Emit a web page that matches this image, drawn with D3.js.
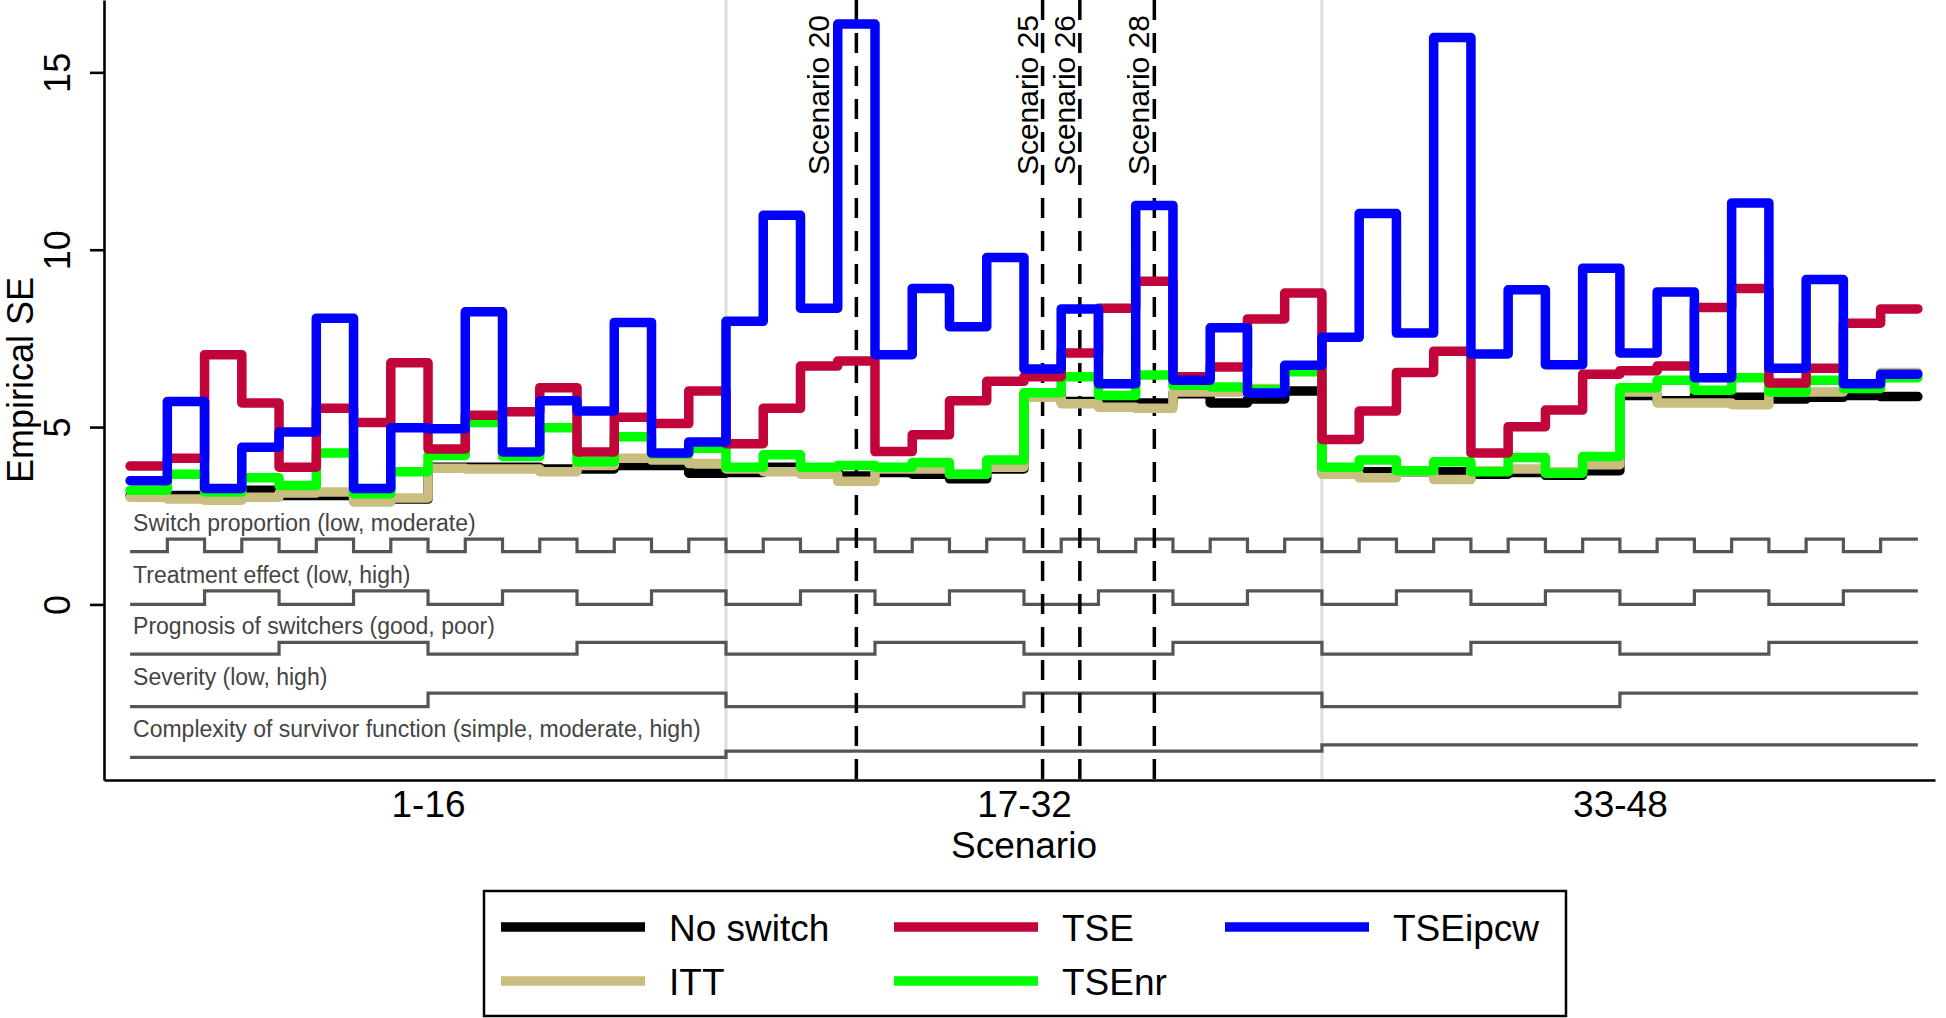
<!DOCTYPE html>
<html>
<head>
<meta charset="utf-8">
<script src="https://cdn.jsdelivr.net/npm/d3@7"></script>
<style>
  body { margin: 0; background: #fff; }
  text { font-family: "Liberation Sans", Arial, Helvetica, sans-serif; }
</style>
</head>
<body>
<svg id="chart" width="1946" height="1018"></svg>
<script>
// empirical SE per scenario (1..48)
var noSwitch = [3.07,3.07,3.14,3.22,3.07,3.07,2.92,2.97,3.87,3.87,3.87,3.82,3.82,3.92,3.92,3.70,
                3.72,3.87,3.82,3.62,3.72,3.67,3.54,3.82,5.89,5.72,5.72,5.68,5.94,5.68,5.79,6.02,
                3.72,3.74,3.74,3.74,3.67,3.72,3.64,3.77,5.89,5.74,5.89,5.84,5.79,5.84,5.89,5.86];
var itt      = [3.02,2.97,2.94,3.02,3.14,3.17,2.89,3.00,3.84,3.82,3.82,3.74,3.92,4.12,4.07,3.97,
                3.82,3.74,3.67,3.47,3.82,3.82,3.67,3.87,5.84,5.66,5.56,5.53,5.99,5.99,6.09,6.72,
                3.67,3.57,3.74,3.52,3.77,3.82,3.74,3.94,5.99,5.68,5.68,5.63,5.99,5.99,6.14,6.54];
var tse      = [3.90,4.12,7.04,5.68,3.87,5.53,5.13,6.81,4.38,5.33,5.43,6.11,4.30,5.28,5.10,6.02,
                4.53,5.53,6.72,6.86,4.31,4.78,5.74,6.29,6.42,7.09,8.35,9.11,6.42,6.69,8.05,8.78,
                4.65,5.45,6.54,7.14,4.27,5.01,5.48,6.49,6.59,6.72,8.37,8.91,6.24,6.66,7.93,8.33];
var tsenr    = [3.22,3.67,3.17,3.57,3.35,4.27,3.12,3.74,4.20,5.13,4.17,4.98,4.02,4.73,4.24,4.40,
                3.87,4.22,3.87,3.92,3.87,4.00,3.67,4.07,5.97,6.42,5.89,6.47,6.18,6.13,6.05,6.56,
                3.87,4.07,3.77,4.02,3.74,4.14,3.70,4.17,6.11,6.32,6.04,6.39,5.99,6.32,6.09,6.39];
var tseipcw  = [3.49,5.72,3.27,4.43,4.86,8.07,3.27,4.98,4.95,8.25,4.30,5.74,5.45,7.95,4.27,4.58,
                7.98,10.97,8.35,16.36,7.04,8.91,7.83,9.78,6.64,8.33,6.22,11.25,6.32,7.80,5.96,6.74,
                7.53,11.02,7.65,15.98,7.06,8.87,6.76,9.48,7.09,8.81,6.39,11.32,6.66,9.16,6.22,6.49];

var seriesNames = ["No switch", "TSE", "TSEipcw", "ITT", "TSEnr"];

// design factors (level of each factor per scenario)
var switchProp  = [0,1,0,1,0,1,0,1,0,1,0,1,0,1,0,1, 0,1,0,1,0,1,0,1,0,1,0,1,0,1,0,1, 0,1,0,1,0,1,0,1,0,1,0,1,0,1,0,1];
var treatEffect = [0,0,1,1,0,0,1,1,0,0,1,1,0,0,1,1, 0,0,1,1,0,0,1,1,0,0,1,1,0,0,1,1, 0,0,1,1,0,0,1,1,0,0,1,1,0,0,1,1];
var prognosis   = [0,0,0,0,1,1,1,1,0,0,0,0,1,1,1,1, 0,0,0,0,1,1,1,1,0,0,0,0,1,1,1,1, 0,0,0,0,1,1,1,1,0,0,0,0,1,1,1,1];
var severity    = [0,0,0,0,0,0,0,0,1,1,1,1,1,1,1,1, 0,0,0,0,0,0,0,0,1,1,1,1,1,1,1,1, 0,0,0,0,0,0,0,0,1,1,1,1,1,1,1,1];
var complexity  = [0,0,0,0,0,0,0,0,0,0,0,0,0,0,0,0, 1,1,1,1,1,1,1,1,1,1,1,1,1,1,1,1, 2,2,2,2,2,2,2,2,2,2,2,2,2,2,2,2];
var factorLabels = ["Switch proportion (low, moderate)", "Treatment effect (low, high)",
                    "Prognosis of switchers (good, poor)", "Severity (low, high)",
                    "Complexity of survivor function (simple, moderate, high)"];

var groupLabels = ["1-16", "17-32", "33-48"];
var groupCenters = [8.5, 24.5, 40.5];
var yTicks = [0, 5, 10, 15];
var marked = [20, 25, 26, 28];

var svg = d3.select("#chart");
svg.append("rect").attr("width", 1946).attr("height", 1018).attr("fill", "#fff");

var x = d3.scaleLinear().domain([-0.2, 48.96]).range([104, 1935]);
var y = d3.scaleLinear().domain([-4.95, 17.04]).range([780, 0]);

// turn a per-scenario array into stair-step points
function steps(vals, f){
	var pts = vals.map(function(v, i){ return [i + 0.5, f(v)]; });
	pts.push([vals.length + 0.5, f(vals[vals.length - 1])]);
	return pts;
}
var stepLine = d3.line().x(function(d){ return x(d[0]); }).y(function(d){ return d[1]; })
	.curve(d3.curveStepAfter);

// light separators between scenario blocks
svg.selectAll(".sep").data([16.5, 32.5]).enter().append("line")
	.attr("x1", d => x(d)).attr("x2", d => x(d))
	.attr("y1", 0).attr("y2", y(-4.95))
	.attr("stroke", "#dedede").attr("stroke-width", 3);

// factor indicator lines
var factorLevels = [switchProp, treatEffect, prognosis, severity, complexity];
var factorBase = [1.49, 0.0, -1.40, -2.88, -4.31];
var factorStep = [0.35, 0.38, 0.33, 0.38, 0.175];

factorLevels.forEach(function(lv, k){
	var f = function(l){ return y(factorBase[k] + l * factorStep[k]); };
	svg.append("path")
		.attr("d", stepLine(steps(lv, f)))
		.attr("fill", "none").attr("stroke", "#555").attr("stroke-width", 3.2);
	svg.append("text")
		.attr("x", x(0.5) + 3)
		.attr("y", f(d3.max(lv)) - 8)
		.attr("font-size", 23).attr("fill", "#444")
		.text(factorLabels[k]);
});

// dashed lines for highlighted scenarios
var labelShift = {20: -27};
svg.selectAll(".mark").data(marked).enter().append("line")
	.attr("x1", d => x(d)).attr("x2", d => x(d))
	.attr("y1", 0).attr("y2", y(-4.95))
	.attr("stroke", "#000").attr("stroke-width", 3.5)
	.attr("stroke-dasharray", "20,13");

// data lines
var series = [
	{vals: noSwitch, color: "#000000"},
	{vals: itt,      color: "#c9bd7f"},
	{vals: tsenr,    color: "#00ff00"},
	{vals: tse,      color: "#c1053a"},
	{vals: tseipcw,  color: "#0000ff"}
];
series.forEach(function(s){
	svg.append("path")
		.attr("d", stepLine(steps(s.vals, y)))
		.attr("fill", "none").attr("stroke", s.color)
		.attr("stroke-width", 9.5)
		.attr("stroke-linejoin", "round").attr("stroke-linecap", "round");
});

svg.selectAll(".marklab").data(marked).enter().append("text")
	.attr("transform", function(d){
		var dx = labelShift[d] !== undefined ? labelShift[d] : -5;
		return "translate(" + (x(d) + dx) + ",15) rotate(-90)";
	})
	.attr("text-anchor", "end").attr("font-size", 30).attr("fill", "#000")
	.text(d => "Scenario " + d);

// axes
var yAxis = svg.append("g").attr("transform", "translate(" + x(-0.2) + ",0)")
	.call(d3.axisLeft(y).tickValues(yTicks).tickSize(14).tickSizeOuter(0).tickFormat(d3.format("d")));
yAxis.select(".domain").attr("stroke-width", 2.6);
yAxis.selectAll(".tick line").attr("stroke-width", 2.6);
yAxis.selectAll(".tick text")
	.attr("font-size", 36).attr("font-family", "Liberation Sans, Arial, sans-serif")
	.attr("x", 0).attr("dy", 0).attr("text-anchor", "middle")
	.attr("transform", "translate(-34,0) rotate(-90)");

var xAxis = svg.append("g").attr("transform", "translate(0," + y(-4.95) + ")")
	.call(d3.axisBottom(x).tickValues(groupCenters).tickSize(0).tickSizeOuter(0)
		.tickFormat(function(d, i){ return groupLabels[i]; }));
xAxis.select(".domain").attr("stroke-width", 2.6);
xAxis.selectAll(".tick text")
	.attr("font-size", 37).attr("font-family", "Liberation Sans, Arial, sans-serif")
	.attr("y", 37).attr("dy", 0);

svg.append("text").attr("x", x(24.5)).attr("y", 858)
	.attr("text-anchor", "middle").attr("font-size", 37).text("Scenario");
svg.append("text").attr("transform", "translate(33,380) rotate(-90)")
	.attr("text-anchor", "middle").attr("font-size", 36).text("Empirical SE");

// legend
var legend = svg.append("g");
legend.append("rect").attr("x", 484).attr("y", 891).attr("width", 1082).attr("height", 125)
	.attr("fill", "#fff").attr("stroke", "#000").attr("stroke-width", 2.5);
var legendItems = [
	{name: seriesNames[0], color: "#000000", col: 0, row: 0},
	{name: seriesNames[1], color: "#c1053a", col: 1, row: 0},
	{name: seriesNames[2], color: "#0000ff", col: 2, row: 0},
	{name: seriesNames[3], color: "#c9bd7f", col: 0, row: 1},
	{name: seriesNames[4], color: "#00ff00", col: 1, row: 1}
];
var colX = [501, 894, 1225];
var rowY = [927, 981];
legendItems.forEach(function(it){
	legend.append("line")
		.attr("x1", colX[it.col]).attr("x2", colX[it.col] + 144)
		.attr("y1", rowY[it.row]).attr("y2", rowY[it.row])
		.attr("stroke", it.color).attr("stroke-width", 9.5);
	legend.append("text")
		.attr("x", colX[it.col] + 168).attr("y", rowY[it.row] + 14)
		.attr("font-size", 37).text(it.name);
});
</script>
</body>
</html>
